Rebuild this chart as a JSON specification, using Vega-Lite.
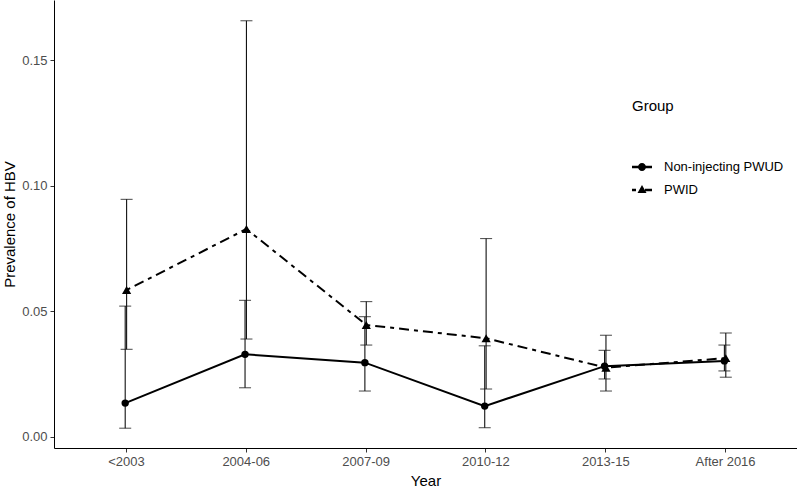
{
  "$schema": "https://vega.github.io/schema/vega-lite/v6.json",
  "width": 743,
  "height": 448,
  "autosize": {"type": "none"},
  "padding": {"left": 54, "top": 0, "right": 0, "bottom": 42},
  "background": "white",
  "config": {
    "view": {"stroke": null},
    "font": "Liberation Sans",
    "axis": {
      "domainColor": "black",
      "domainWidth": 1,
      "tickColor": "#333333",
      "tickSize": 4,
      "labelColor": "#4d4d4d",
      "labelFontSize": 13,
      "titleFontSize": 15,
      "titleFontWeight": "normal",
      "titleColor": "black",
      "grid": false
    }
  },
  "data": {
    "values": [
      {"Group": "Non-injecting PWUD", "Year": "<2003", "value": 0.0135, "lo": 0.0035, "hi": 0.0521},
      {"Group": "Non-injecting PWUD", "Year": "2004-06", "value": 0.0329, "lo": 0.0196, "hi": 0.0544},
      {"Group": "Non-injecting PWUD", "Year": "2007-09", "value": 0.0296, "lo": 0.0183, "hi": 0.0479},
      {"Group": "Non-injecting PWUD", "Year": "2010-12", "value": 0.0123, "lo": 0.0037, "hi": 0.0363},
      {"Group": "Non-injecting PWUD", "Year": "2013-15", "value": 0.0282, "lo": 0.0231, "hi": 0.0345},
      {"Group": "Non-injecting PWUD", "Year": "After 2016", "value": 0.0303, "lo": 0.0263, "hi": 0.0366},
      {"Group": "PWID", "Year": "<2003", "value": 0.0585, "lo": 0.0349, "hi": 0.0946},
      {"Group": "PWID", "Year": "2004-06", "value": 0.0828, "lo": 0.039, "hi": 0.1657},
      {"Group": "PWID", "Year": "2007-09", "value": 0.0446, "lo": 0.0366, "hi": 0.0539},
      {"Group": "PWID", "Year": "2010-12", "value": 0.0393, "lo": 0.0191, "hi": 0.079},
      {"Group": "PWID", "Year": "2013-15", "value": 0.0276, "lo": 0.0183, "hi": 0.0405},
      {"Group": "PWID", "Year": "After 2016", "value": 0.0314, "lo": 0.0238, "hi": 0.0414}
    ]
  },
  "encoding": {
    "x": {
      "field": "Year",
      "type": "nominal",
      "sort": ["<2003", "2004-06", "2007-09", "2010-12", "2013-15", "After 2016"],
      "scale": {"type": "point", "padding": 0.6},
      "title": "Year",
      "axis": {"labelAngle": 0, "labelPadding": 3, "titlePadding": 5}
    },
    "xOffset": {"field": "Group", "type": "nominal", "scale": {"range": [-1.4, 1.4]}}
  },
  "layer": [
    {
      "transform": [{"filter": "datum.Group == 'Non-injecting PWUD'"}],
      "mark": {"type": "line", "color": "black", "strokeWidth": 2},
      "encoding": {
        "y": {
          "field": "value",
          "type": "quantitative",
          "title": "Prevalence of HBV",
          "scale": {"domain": [-0.00438, 0.17396], "nice": false, "zero": false},
          "axis": {"values": [0, 0.05, 0.1, 0.15], "format": ".2f", "labelPadding": 3, "titlePadding": 4}
        }
      }
    },
    {
      "transform": [{"filter": "datum.Group == 'PWID'"}],
      "mark": {"type": "line", "color": "black", "strokeWidth": 2, "strokeDash": [4, 5, 10, 5]},
      "encoding": {
        "y": {"field": "value", "type": "quantitative", "title": "Prevalence of HBV"}
      }
    },
    {
      "mark": {"type": "rule", "color": "#111111", "strokeWidth": 1.1},
      "encoding": {
        "y": {"field": "lo", "type": "quantitative", "title": "Prevalence of HBV"},
        "y2": {"field": "hi"}
      }
    },
    {
      "mark": {"type": "tick", "orient": "horizontal", "color": "#111111", "size": 12, "thickness": 1.1},
      "encoding": {
        "y": {"field": "lo", "type": "quantitative", "title": "Prevalence of HBV"}
      }
    },
    {
      "mark": {"type": "tick", "orient": "horizontal", "color": "#111111", "size": 12, "thickness": 1.1},
      "encoding": {
        "y": {"field": "hi", "type": "quantitative", "title": "Prevalence of HBV"}
      }
    },
    {
      "mark": {"type": "point", "filled": true, "color": "black", "opacity": 0, "size": 10},
      "encoding": {
        "y": {"field": "value", "type": "quantitative", "title": "Prevalence of HBV"},
        "shape": {
          "field": "Group",
          "type": "nominal",
          "scale": {
            "domain": ["Non-injecting PWUD", "PWID"],
            "range": [
              "M-1,-0.12L1,-0.12L1,0.12L-1,0.12Z M-0.4,0A0.4,0.4,0,1,1,0.4,0A0.4,0.4,0,1,1,-0.4,0Z",
              "M-1,-0.12L-0.6,-0.12L-0.6,0.12L-1,0.12Z M0,-0.5L0.45,0.3L-0.45,0.3Z M0.3,-0.12L1,-0.12L1,0.12L0.3,0.12Z"
            ]
          },
          "legend": {
            "title": "Group",
            "orient": "none",
            "legendX": 578,
            "legendY": 99,
            "padding": 0,
            "titleFontSize": 15,
            "titleFontWeight": "normal",
            "titleColor": "black",
            "titlePadding": 43,
            "labelFontSize": 13,
            "labelColor": "black",
            "labelOffset": 12,
            "symbolSize": 400,
            "rowPadding": 6,
            "symbolOpacity": 1,
            "symbolFillColor": "black",
            "symbolStrokeColor": "black",
            "symbolStrokeWidth": 0
          }
        }
      }
    },
    {
      "transform": [{"filter": "datum.Group == 'Non-injecting PWUD'"}],
      "mark": {"type": "point", "filled": true, "color": "black", "opacity": 1, "size": 55, "shape": "circle"},
      "encoding": {
        "y": {"field": "value", "type": "quantitative", "title": "Prevalence of HBV"}
      }
    },
    {
      "transform": [{"filter": "datum.Group == 'PWID'"}],
      "mark": {"type": "point", "filled": true, "color": "black", "opacity": 1, "size": 85, "shape": "triangle-up"},
      "encoding": {
        "y": {"field": "value", "type": "quantitative", "title": "Prevalence of HBV"}
      }
    }
  ]
}
